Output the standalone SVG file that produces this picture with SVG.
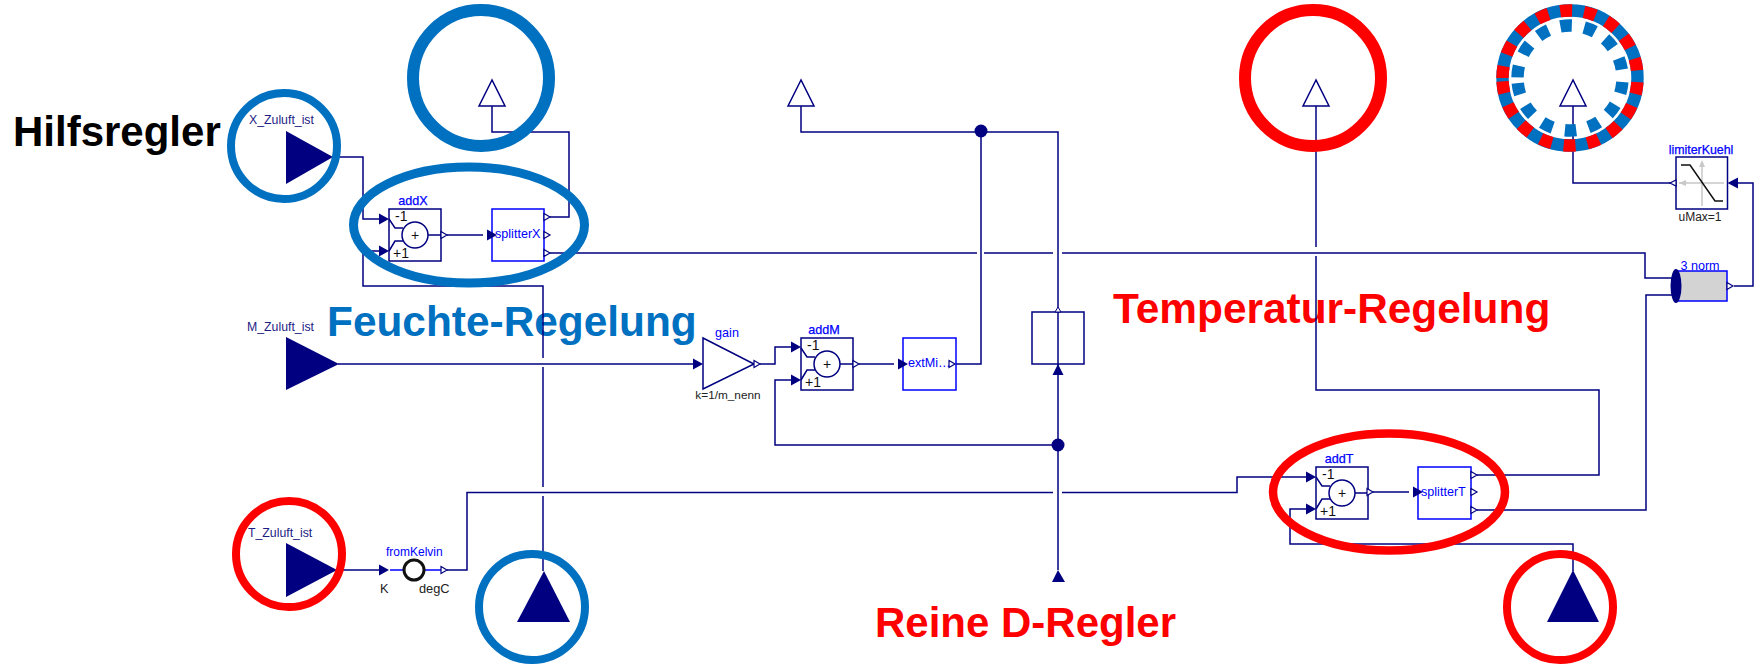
<svg xmlns="http://www.w3.org/2000/svg" width="1763" height="664" viewBox="0 0 1763 664">
<style>
text{font-family:"Liberation Sans",Arial,sans-serif}
.w{fill:none;stroke:#000080;stroke-width:1.5}
.nb{fill:none;stroke:#000080;stroke-width:1.5}
.bb{fill:#fff;stroke:#0000ff;stroke-width:1.5}
.open{fill:#fff;stroke:#000080;stroke-width:1.5}
.fill{fill:#000080}
.lb{font-size:12.600px;fill:#0000ff}
.lbb{font-size:12.600px;fill:#0000ff;stroke:#0000ff;stroke-width:.25}
.pl{font-size:12.300px;fill:#1c1c85}
.par{font-size:12.800px;fill:#222}
.big{font-size:42.400px;font-weight:bold}
.rb{fill:none;stroke:#0070c0}
.rr{fill:none;stroke:#ff0000}
</style>
<defs>
<polygon id="in" class="fill" points="0,-5.5 10,0 0,5.5"/>
<polygon id="out" fill="#fff" stroke="#000080" stroke-width="1.2" points="0,-3.5 6,0 0,3.5"/>
<g id="adder">
<rect class="nb" fill="#fff" x="0" y="0" width="52" height="52"/>
<path class="nb" d="M0,10L6,19H14M0,42L6,32H14M39,26H52"/>
<circle cx="26" cy="26" r="13" fill="#fff" stroke="#000080" stroke-width="1.500"/>
<text x="26" y="31" font-size="14" text-anchor="middle" fill="#111">+</text>
<text x="6" y="12" font-size="14" fill="#111">-1</text>
<text x="4" y="49" font-size="14" fill="#111">+1</text>
</g>
</defs>

<g id="labels">
<text id="label-hilfsregler" class="big" x="13" y="146" fill="#000" style="font-size:42px">Hilfsregler</text>
<text id="label-feuchte" class="big" x="327" y="336" fill="#0070c0">Feuchte-Regelung</text>
<text id="label-temperatur" class="big" x="1113" y="323" fill="#ff0000">Temperatur-Regelung</text>
<text id="label-d" class="big" x="875" y="637" fill="#ff0000" style="font-size:42px">Reine D-Regler</text>
</g>

<g id="connectors">
<path class="w" d="M333,157H363V219H380"/>
<path class="w" d="M380,251H363V286H543V358"/>
<path class="w" d="M543,367V487"/>
<path class="w" d="M543,496V571"/>
<path class="w" d="M447,235H483"/>
<path class="w" d="M550,217H569V132H492V106"/>
<path class="w" d="M550,253H977M984,253H1053M1062,253H1645V278H1672"/>
<path class="w" d="M338,364H694"/>
<path class="w" d="M760,364H775V347H792"/>
<path class="w" d="M859,364H894"/>
<path class="w" d="M956,364H981V131"/>
<path class="w" d="M801,106V132H1058V308"/>
<path class="w" d="M1058,312V570"/>
<path class="w" d="M1058,445H775V380H792"/>
<path class="w" d="M336,570H380"/>
<path class="w" d="M390,570H403M425,570H441" style="stroke:#0000ff"/>
<path class="w" d="M447,570H467V492.500H1053M1062,492.500H1237V477H1306"/>
<path class="w" d="M1373,492H1409"/>
<path class="w" d="M1477,475H1599V390H1316V256"/>
<path class="w" d="M1316,247V106"/>
<path class="w" d="M1477,510H1646V295H1672"/>
<path class="w" d="M1306,509H1290V544H1573V571"/>
<path class="w" d="M1573,106V183H1671"/>
<path class="w" d="M1738,183H1753V286H1734"/>
<circle class="fill" cx="981" cy="131" r="6.500"/>
<circle class="fill" cx="1058" cy="445" r="6.500"/>
</g>

<g id="X_Zuluft_ist">
<text class="pl" x="249" y="124">X_Zuluft_ist</text>
<polygon class="fill" points="286,131 333,157 286,184"/>
</g>
<g id="M_Zuluft_ist">
<text class="pl" x="247" y="331">M_Zuluft_ist</text>
<polygon class="fill" points="286,337 339,364 286,390"/>
</g>
<g id="T_Zuluft_ist">
<text class="pl" x="248" y="537">T_Zuluft_ist</text>
<polygon class="fill" points="286,543 337,570 286,597"/>
</g>
<g id="outX"><polygon class="open" points="492,80 479,106 505,106"/></g>
<g id="outM"><polygon class="open" points="801,80 788,106 814,106"/></g>
<g id="outT"><polygon class="open" points="1316,80 1303,106 1329,106"/></g>
<g id="outK"><polygon class="open" points="1573,80 1560,106 1586,106"/></g>
<g id="inX2"><polygon class="fill" points="544,571 517,622 570,622"/></g>
<g id="inT2"><polygon class="fill" points="1573,570 1547,622 1599,622"/></g>
<g id="inD"><polygon class="fill" points="1058,570 1052,582 1065,582"/></g>

<g id="addX">
<use href="#adder" x="389" y="209"/>
<use href="#in" x="379" y="219"/><use href="#in" x="379" y="251"/><use href="#out" x="441" y="235"/>
<text class="lbb" x="413" y="205" text-anchor="middle">addX</text>
</g>
<g id="splitterX">
<rect class="bb" x="492" y="209" width="52" height="52"/>
<use href="#in" x="487" y="235"/>
<use href="#out" x="544" y="217"/><use href="#out" x="544" y="235"/><use href="#out" x="544" y="253"/>
<text class="lb" x="495" y="238">splitterX</text>
</g>
<g id="gain">
<polygon fill="#fff" stroke="#000080" stroke-width="1.500" points="703,338 754,364 703,389"/>
<use href="#in" x="693" y="364"/><use href="#out" x="754" y="364"/>
<text class="lb" x="727" y="337" text-anchor="middle">gain</text>
<text class="par" x="728" y="399" text-anchor="middle" style="font-size:11.800px">k=1/m_nenn</text>
</g>
<g id="addM">
<use href="#adder" x="801" y="338"/>
<use href="#in" x="791" y="347"/><use href="#in" x="791" y="380"/><use href="#out" x="853" y="364"/>
<text class="lbb" x="824" y="334" text-anchor="middle">addM</text>
</g>
<g id="extMi">
<rect class="bb" x="903" y="338" width="53" height="52"/>
<use href="#in" x="898" y="364"/><use href="#out" x="949" y="364"/>
<text class="lb" x="908" y="367">extMi…</text>
</g>
<g id="dBlock">
<rect class="nb" x="1032" y="312" width="52" height="52"/>
<polygon points="1058,307 1055,312 1061,312" fill="#fff" stroke="#000080"/>
<polygon class="fill" points="1058,364 1052.500,375 1063.500,375"/>
</g>
<g id="fromKelvin">
<use href="#in" x="379" y="570"/>
<circle cx="414" cy="570" r="10" fill="#fff" stroke="#111" stroke-width="3"/>
<use href="#out" x="441" y="570"/>
<text class="lb" x="386" y="556" style="font-size:12px">fromKelvin</text>
<text class="par" x="380" y="593">K</text>
<text class="par" x="419" y="593">degC</text>
</g>
<g id="addT">
<use href="#adder" x="1316" y="467"/>
<use href="#in" x="1306" y="477"/><use href="#in" x="1306" y="509"/><use href="#out" x="1367" y="492"/>
<text class="lbb" x="1339" y="463" text-anchor="middle">addT</text>
</g>
<g id="splitterT">
<rect class="bb" x="1418" y="467" width="53" height="52"/>
<use href="#in" x="1413" y="492"/>
<use href="#out" x="1471" y="475"/><use href="#out" x="1471" y="492"/><use href="#out" x="1471" y="510"/>
<text class="lb" x="1421" y="496">splitterT</text>
</g>
<g id="norm3">
<rect x="1675" y="271" width="52" height="30" fill="#d3d3d3" stroke="#0000ff" stroke-width="1.500"/>
<ellipse cx="1676" cy="286" rx="5.500" ry="17" class="fill"/>
<use href="#out" x="1727" y="286"/>
<text class="lb" x="1700" y="270" text-anchor="middle">3 norm</text>
</g>
<g id="limiterKuehl">
<rect class="nb" fill="#fff" x="1676" y="157" width="51.500" height="52"/>
<path d="M1679,183H1724M1702,206V163" fill="none" stroke="#c8c8c8" stroke-width="1.500"/>
<polygon points="1702,160 1699,167 1705,167" fill="#c8c8c8"/>
<polygon points="1679,183 1686,180 1686,186" fill="#c8c8c8"/>
<path d="M1681,165H1690L1715,201H1723" fill="none" stroke="#111" stroke-width="1.500"/>
<polygon class="fill" points="1727.500,183 1738,177.500 1738,188.500"/>
<polygon points="1670,183 1676,180 1676,186" fill="#fff" stroke="#000080" stroke-width="1.200"/>
<text class="lbb" x="1701" y="154" text-anchor="middle" style="font-size:12.400px">limiterKuehl</text>
<text class="par" x="1700" y="221" text-anchor="middle" style="font-size:12px">uMax=1</text>
</g>

<g id="marks">
<circle class="rb" cx="481" cy="78" r="68" stroke-width="12"/>
<circle class="rb" cx="284" cy="146" r="53" stroke-width="8"/>
<ellipse class="rb" cx="469" cy="225" rx="115.500" ry="58" stroke-width="9"/>
<circle class="rb" cx="532" cy="607" r="53" stroke-width="8"/>
<circle class="rr" cx="289" cy="554" r="53" stroke-width="8"/>
<circle class="rr" cx="1313" cy="78" r="68" stroke-width="12"/>
<ellipse class="rr" cx="1389" cy="492" rx="116" ry="58.500" stroke-width="8.500"/>
<circle class="rr" cx="1560" cy="607" r="53" stroke-width="8"/>
<circle class="rb" cx="1570" cy="78" r="67.500" stroke-width="12.400"/>
<path class="rr" d="M1502.500,78A67.500,67.500 0 1 1 1637.500,78A67.500,67.500 0 1 1 1502.500,78" stroke-width="12.400" stroke-dasharray="12 12"/>
<path class="rb" d="M1517.500,78A52.500,52.500 0 1 1 1622.500,78A52.500,52.500 0 1 1 1517.500,78" stroke-width="12.400" stroke-dasharray="11.500 12.500" stroke-dashoffset="-0.700"/>
</g>
</svg>
